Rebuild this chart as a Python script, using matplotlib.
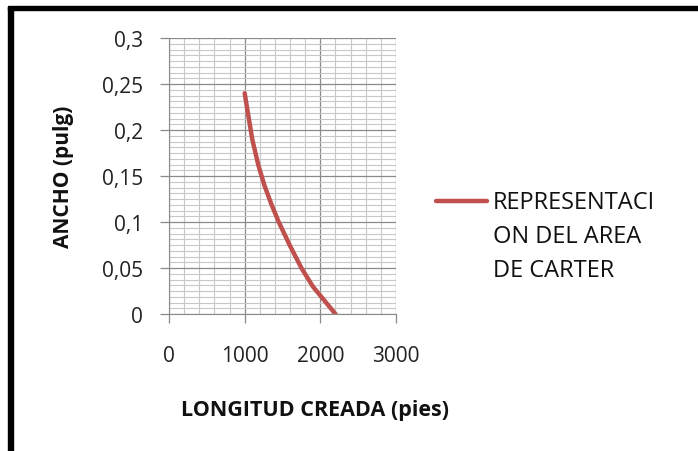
import matplotlib
matplotlib.use("Agg")
import matplotlib.pyplot as plt
from matplotlib.lines import Line2D
from matplotlib.patches import Rectangle
from matplotlib.ticker import MultipleLocator, FuncFormatter

# values
longitud = [1000, 1030, 1100, 1180, 1260, 1350, 1450, 1600, 1750, 1900, 2050, 2200]
ancho = [0.24, 0.225, 0.19, 0.162, 0.14, 0.12, 0.1, 0.074, 0.05, 0.03, 0.015, 0.0]
serie = "REPRESENTACI\nON DEL AREA\nDE CARTER"
x_label = "LONGITUD CREADA (pies)"
y_label = "ANCHO (pulg)"

plt.rcParams['font.family'] = ['Open Sans', 'DejaVu Sans']

W, H = 698, 452
fig = plt.figure(figsize=(W / 100, H / 100), dpi=100)
ax = fig.add_axes([169 / W, 1 - 315 / H, (396 - 169) / W, (315 - 39) / H])

red = '#c0504d'
ax.plot(longitud, ancho, color=red, lw=3.2, solid_capstyle='round')

ax.set_xlim(0, 3000)
ax.set_ylim(0, 0.3)
ax.xaxis.set_major_locator(MultipleLocator(1000))
ax.xaxis.set_minor_locator(MultipleLocator(200))
ax.yaxis.set_major_locator(MultipleLocator(0.05))
ax.yaxis.set_minor_locator(MultipleLocator(0.05 / 8))
ax.yaxis.set_major_formatter(FuncFormatter(lambda v, p: ('%g' % round(v, 2)).replace('.', ',')))

ax.grid(which='major', color='#8a8a8a', lw=0.9)
ax.grid(which='minor', color='#c8c8c8', lw=0.8)
ax.set_axisbelow(True)
for s in ax.spines.values():
    s.set_visible(False)
ax.spines['left'].set_visible(True)
ax.spines['bottom'].set_visible(True)
ax.spines['left'].set_color('#8a8a8a')
ax.spines['bottom'].set_color('#8a8a8a')
ax.tick_params(which='major', direction='out', length=6.5, width=0.9, color='#8a8a8a',
               labelsize=15, labelcolor='#222222')
ax.tick_params(axis='y', pad=12)
ax.tick_params(axis='x', pad=16)
ax.tick_params(which='minor', length=0)

fig.text(64 / W, 1 - 177 / H, y_label, rotation=90, ha='center', va='center',
         fontsize=15, fontweight='bold', color='#111111')
fig.text(315 / W, 1 - 411 / H, x_label, ha='center', va='center',
         fontsize=15.5, fontweight='bold', color='#111111')

# legend
fig.add_artist(Line2D([436 / W, 487 / W], [1 - 202 / H, 1 - 202 / H], color=red, lw=3.2,
                      solid_capstyle='round'))
fig.text(493 / W, 1 - 237 / H, serie, ha='left', va='center', fontsize=17,
         linespacing=1.58, color='#111111')

# frame around the chart
fig.add_artist(Rectangle((8 / W, 0), 5 / W, 1 - 8 / H, color='black'))
fig.add_artist(Rectangle((8 / W, 1 - 11 / H), 1, 4 / H, color='black'))

fig.savefig('out.png', dpi=100)
